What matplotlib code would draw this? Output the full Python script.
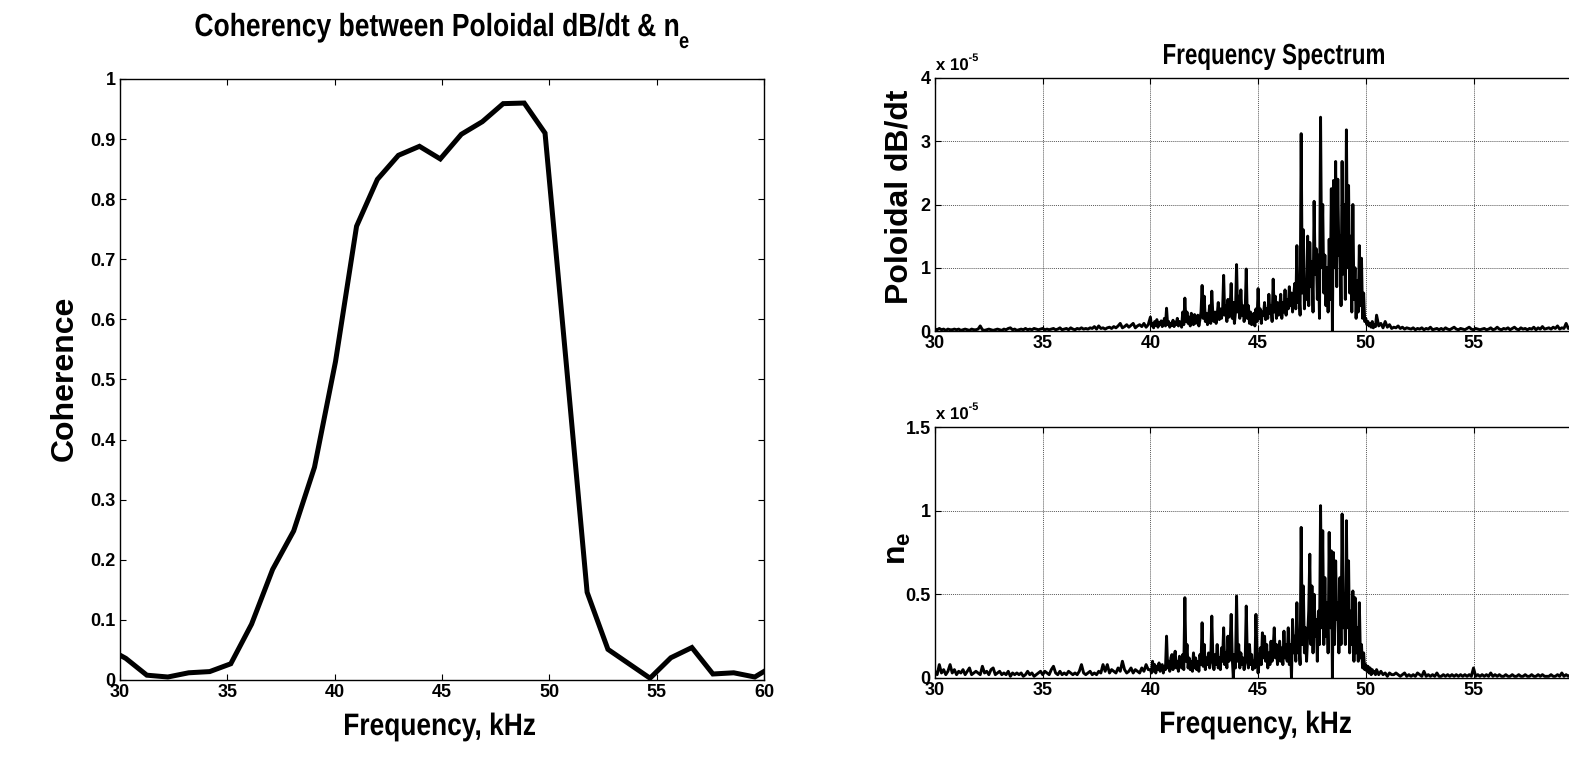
import numpy as np
import matplotlib
matplotlib.use("Agg")
import matplotlib.pyplot as plt
from matplotlib.ticker import FormatStrFormatter
from matplotlib.textpath import TextPath
from matplotlib.patches import PathPatch
from matplotlib.font_manager import FontProperties
from matplotlib.transforms import Affine2D

plt.rcParams["font.family"] = ["Liberation Sans", "DejaVu Sans"]
plt.rcParams["font.weight"] = "bold"
plt.rcParams["mathtext.default"] = "regular"

# coherence data (kHz, coherence)
coh_freq = [29.30, 30.27, 31.25, 32.23, 33.20, 34.18, 35.16, 36.13, 37.11, 38.09,
            39.06, 40.04, 41.02, 41.99, 42.97, 43.95, 44.92, 45.90, 46.88, 47.85,
            48.83, 49.80, 50.78, 51.76, 52.73, 53.71, 54.69, 55.66, 56.64, 57.62,
            58.59, 59.57, 60.55]
coh_val = [0.055, 0.036, 0.008, 0.005, 0.012, 0.014, 0.027, 0.093, 0.184, 0.248,
           0.354, 0.530, 0.755, 0.833, 0.873, 0.888, 0.867, 0.908, 0.929, 0.959,
           0.960, 0.910, 0.530, 0.146, 0.051, 0.027, 0.003, 0.037, 0.054, 0.010,
           0.012, 0.005, 0.026]

# poloidal dB/dt spectrum, units of 1e-5
# 30.0-39.9 kHz, step 0.1
pol_lo = [0.03, 0.02, 0.04, 0.02, 0.03, 0.01, 0.03, 0.02, 0.02, 0.03,
          0.02, 0.03, 0.01, 0.02, 0.03, 0.02, 0.01, 0.03, 0.02, 0.02,
          0.03, 0.08, 0.02, 0.01, 0.02, 0.03, 0.02, 0.01, 0.02, 0.03,
          0.02, 0.01, 0.03, 0.02, 0.04, 0.05, 0.02, 0.03, 0.01, 0.02,
          0.03, 0.02, 0.04, 0.02, 0.03, 0.02, 0.04, 0.03, 0.02, 0.03,
          0.04, 0.02, 0.03, 0.02, 0.03, 0.04, 0.02, 0.03, 0.05, 0.02,
          0.03, 0.04, 0.02, 0.05, 0.03, 0.02, 0.04, 0.03, 0.05, 0.03,
          0.04, 0.03, 0.05, 0.04, 0.07, 0.03, 0.08, 0.04, 0.05, 0.03,
          0.05, 0.06, 0.04, 0.07, 0.05, 0.08, 0.12, 0.05, 0.07, 0.10,
          0.06, 0.09, 0.12, 0.05, 0.08, 0.10, 0.07, 0.12, 0.06, 0.10]
# 40.00-50.45 kHz, step 0.05
pol_mid = [0.22, 0.08, 0.12, 0.05, 0.15, 0.09, 0.18, 0.06, 0.13, 0.10, 0.16, 0.07, 0.12, 0.20, 0.08, 0.36, 0.10, 0.15, 0.06, 0.12,
           0.09, 0.17, 0.07, 0.14, 0.10, 0.20, 0.08, 0.15, 0.12, 0.06, 0.30, 0.10, 0.52, 0.15, 0.30, 0.12, 0.22, 0.08, 0.28, 0.14,
           0.10, 0.26, 0.12, 0.20, 0.25, 0.08, 0.18, 0.30, 0.72, 0.20, 0.55, 0.15, 0.28, 0.10, 0.22, 0.40, 0.12, 0.63, 0.25, 0.15,
           0.30, 0.12, 0.25, 0.45, 0.18, 0.35, 0.20, 0.30, 0.88, 0.25, 0.40, 0.15, 0.50, 0.22, 0.35, 0.75, 0.20, 0.45, 0.12, 0.30,
           1.05, 0.30, 0.55, 0.20, 0.65, 0.25, 0.40, 0.15, 0.30, 0.98, 0.20, 0.40, 0.12, 0.30, 0.10, 0.20, 0.28, 0.08, 0.35, 0.15,
           0.67, 0.20, 0.35, 0.12, 0.30, 0.25, 0.45, 0.18, 0.35, 0.20, 0.58, 0.28, 0.40, 0.15, 0.82, 0.30, 0.55, 0.20, 0.45, 0.25,
           0.35, 0.58, 0.20, 0.45, 0.30, 0.65, 0.25, 0.50, 0.35, 0.70, 0.40, 0.60, 0.30, 0.55, 0.75, 0.35, 1.35, 0.45, 0.60, 0.25,
           3.12, 0.60, 1.60, 0.35, 0.80, 0.50, 1.50, 0.40, 1.40, 0.70, 1.10, 0.30, 2.05, 0.90, 1.30, 0.50, 1.20, 0.20, 3.38, 1.00,
           2.00, 0.60, 1.20, 0.40, 1.00, 0.30, 1.45, 0.50, 2.25, 0.00, 2.38, 1.00, 2.68, 0.70, 2.40, 1.20, 1.50, 0.40, 2.68, 0.90,
           2.00, 0.50, 3.18, 1.00, 2.30, 0.60, 1.50, 0.30, 2.00, 0.50, 1.00, 0.20, 0.80, 0.30, 1.35, 0.40, 1.15, 0.20, 0.60, 0.15,
           0.20, 0.10, 0.15, 0.08, 0.12, 0.06, 0.15, 0.05, 0.10, 0.07]
# 50.5-60.0 kHz, step 0.1
pol_hi = [0.25, 0.08, 0.12, 0.05, 0.15, 0.06, 0.10, 0.04, 0.06, 0.05,
          0.08, 0.04, 0.06, 0.03, 0.05, 0.04, 0.03, 0.05, 0.02, 0.04,
          0.03, 0.05, 0.02, 0.04, 0.03, 0.06, 0.02, 0.03, 0.04, 0.02,
          0.04, 0.02, 0.05, 0.03, 0.02, 0.04, 0.06, 0.03, 0.02, 0.04,
          0.03, 0.02, 0.04, 0.06, 0.03, 0.02, 0.04, 0.03, 0.02, 0.03,
          0.04, 0.02, 0.03, 0.05, 0.02, 0.03, 0.06, 0.03, 0.02, 0.04,
          0.03, 0.05, 0.02, 0.04, 0.06, 0.03, 0.02, 0.05, 0.03, 0.04,
          0.02, 0.04, 0.03, 0.06, 0.02, 0.05, 0.03, 0.07, 0.03, 0.04,
          0.05, 0.03, 0.06, 0.04, 0.08, 0.03, 0.05, 0.04, 0.12, 0.04,
          0.06, 0.03, 0.10, 0.05, 0.04, 0.06]

# n_e spectrum, units of 1e-5
ne_lo = [0.04, 0.02, 0.08, 0.03, 0.05, 0.02, 0.04, 0.08, 0.03, 0.05,
         0.02, 0.04, 0.03, 0.05, 0.02, 0.04, 0.06, 0.02, 0.03, 0.04,
         0.03, 0.02, 0.07, 0.03, 0.04, 0.02, 0.05, 0.06, 0.02, 0.03,
         0.04, 0.02, 0.03, 0.02, 0.04, 0.01, 0.03, 0.02, 0.03, 0.02,
         0.03, 0.01, 0.02, 0.04, 0.02, 0.03, 0.01, 0.02, 0.03, 0.04,
         0.02, 0.04, 0.03, 0.02, 0.05, 0.07, 0.03, 0.02, 0.04, 0.02,
         0.03, 0.02, 0.04, 0.03, 0.02, 0.03, 0.02, 0.04, 0.08, 0.03,
         0.02, 0.03, 0.04, 0.02, 0.03, 0.02, 0.04, 0.03, 0.08, 0.04,
         0.08, 0.03, 0.05, 0.04, 0.03, 0.06, 0.04, 0.10, 0.05, 0.03,
         0.04, 0.06, 0.03, 0.05, 0.04, 0.03, 0.06, 0.04, 0.08, 0.05]
ne_mid = [0.05, 0.03, 0.10, 0.04, 0.08, 0.03, 0.07, 0.05, 0.09, 0.04, 0.06, 0.08, 0.03, 0.07, 0.05, 0.25, 0.06, 0.10, 0.04, 0.12,
          0.14, 0.05, 0.12, 0.16, 0.06, 0.10, 0.04, 0.13, 0.08, 0.06, 0.14, 0.05, 0.48, 0.10, 0.20, 0.06, 0.12, 0.05, 0.10, 0.04,
          0.15, 0.06, 0.12, 0.05, 0.10, 0.04, 0.14, 0.08, 0.33, 0.07, 0.20, 0.05, 0.12, 0.08, 0.15, 0.06, 0.10, 0.37, 0.12, 0.05,
          0.14, 0.08, 0.20, 0.06, 0.12, 0.05, 0.18, 0.10, 0.30, 0.08, 0.15, 0.06, 0.25, 0.10, 0.20, 0.38, 0.12, 0.00, 0.14, 0.06,
          0.49, 0.10, 0.20, 0.06, 0.15, 0.08, 0.12, 0.05, 0.10, 0.43, 0.12, 0.06, 0.20, 0.08, 0.14, 0.05, 0.10, 0.06, 0.38, 0.12,
          0.03, 0.10, 0.18, 0.08, 0.27, 0.12, 0.25, 0.10, 0.20, 0.06, 0.15, 0.08, 0.22, 0.10, 0.18, 0.30, 0.12, 0.20, 0.08, 0.15,
          0.22, 0.10, 0.18, 0.08, 0.28, 0.12, 0.20, 0.10, 0.30, 0.08, 0.20, 0.00, 0.35, 0.15, 0.25, 0.10, 0.45, 0.15, 0.20, 0.08,
          0.90, 0.20, 0.55, 0.15, 0.30, 0.10, 0.25, 0.40, 0.74, 0.20, 0.55, 0.15, 0.50, 0.25, 0.35, 0.10, 0.40, 0.20, 1.03, 0.30,
          0.88, 0.20, 0.60, 0.25, 0.45, 0.15, 0.87, 0.30, 0.76, 0.00, 0.75, 0.20, 0.70, 0.35, 0.45, 0.15, 0.60, 0.20, 0.98, 0.30,
          0.50, 0.20, 0.94, 0.30, 0.70, 0.15, 0.40, 0.20, 0.52, 0.10, 0.48, 0.15, 0.30, 0.10, 0.45, 0.12, 0.20, 0.06, 0.15, 0.05,
          0.08, 0.04, 0.07, 0.03, 0.06, 0.02, 0.05, 0.03, 0.04, 0.02]
ne_hi = [0.05, 0.02, 0.04, 0.02, 0.03, 0.01, 0.03, 0.02, 0.02, 0.03,
         0.02, 0.01, 0.02, 0.03, 0.01, 0.02, 0.01, 0.02, 0.01, 0.03,
         0.02, 0.01, 0.04, 0.01, 0.02, 0.01, 0.02, 0.01, 0.03, 0.01,
         0.01, 0.02, 0.01, 0.02, 0.01, 0.02, 0.01, 0.02, 0.01, 0.02,
         0.01, 0.02, 0.01, 0.02, 0.01, 0.06, 0.01, 0.02, 0.01, 0.02,
         0.01, 0.02, 0.01, 0.03, 0.01, 0.02, 0.01, 0.02, 0.01, 0.01,
         0.02, 0.01, 0.01, 0.02, 0.01, 0.01, 0.02, 0.01, 0.01, 0.02,
         0.01, 0.01, 0.02, 0.01, 0.01, 0.02, 0.01, 0.02, 0.01, 0.01,
         0.01, 0.02, 0.01, 0.01, 0.02, 0.01, 0.03, 0.01, 0.02, 0.01,
         0.02, 0.01, 0.03, 0.01, 0.02, 0.01]

# frequency bins for the three spectrum bands
f_lo = 30.0 + 0.1 * np.arange(len(pol_lo))
f_mid = 40.0 + 0.05 * np.arange(len(pol_mid))
f_hi = 50.5 + 0.1 * np.arange(len(pol_hi))
f_spec = np.concatenate([f_lo, f_mid, f_hi])
pol_spec = np.concatenate([pol_lo, pol_mid, pol_hi])
ne_spec = np.concatenate([ne_lo, ne_mid, ne_hi])

W, H = 1569, 761
fig = plt.figure(figsize=(W / 100, H / 100), dpi=100)
BOLD = FontProperties(family=["Liberation Sans", "DejaVu Sans"], weight="bold")


def narrow_text(pieces, x, y, width, ha="center"):
    # draw condensed bold text (like Arial Narrow) as a path
    # pieces: (string, em size in px, raise in px); x, y in pixels from top-left, y = baseline
    parts = []
    cursor = 0.0
    for s, size, dy in pieces:
        tp = TextPath((0, 0), s, size=size, prop=BOLD)
        ext = tp.get_extents()
        parts.append((tp, cursor - ext.x0, dy))
        cursor += ext.width + size * 0.06
    total = cursor - pieces[-1][1] * 0.06
    sx = width / total
    x0 = x - width / 2 if ha == "center" else x
    for tp, off, dy in parts:
        tr = (Affine2D().translate(off, dy).scale(sx, 1)
              .translate(x0, H - y).scale(1 / W, 1 / H))
        fig.add_artist(PathPatch(tr.transform_path(tp), transform=fig.transFigure,
                                 fc="k", ec="none", lw=0))


def style_axes(ax):
    ax.tick_params(direction="in", length=4, width=0.8, top=True, right=True,
                   labelsize=13, pad=3)
    for s in ax.spines.values():
        s.set_linewidth(1.0)


# left: coherence
ax1 = fig.add_axes([120 / W, 1 - 680 / H, 644 / W, 601 / H])
ax1.plot(coh_freq, coh_val, color="k", lw=3.6, solid_joinstyle="miter")
ax1.set_xlim(30, 60)
ax1.set_ylim(0, 1)
ax1.set_xticks(np.arange(30, 61, 5))
ax1.set_yticks(np.arange(0, 1.01, 0.1))
ax1.yaxis.set_major_formatter(FormatStrFormatter("%g"))
style_axes(ax1)

narrow_text([("Coherency between Poloidal dB/dt & n", 32, 0), ("e", 22, -12)],
            442, 36, 493)
narrow_text([("Frequency, kHz", 31, 0)], 440, 735, 190)
fig.text(65 / W, 1 - 378 / H, "Coherence", rotation=90, fontsize=23,
         fontweight="bold", ha="center", va="center")

# right top: poloidal dB/dt spectrum
px_per_khz = 107.7 / 5
x_left = 935
ax2 = fig.add_axes([x_left / W, 1 - 331 / H, 30 * px_per_khz / W, 253 / H])
ax2.plot(f_spec, pol_spec, color="k", lw=2.1)
ax2.set_xlim(30, 60)
ax2.set_ylim(0, 4)
ax2.set_xticks(np.arange(30, 61, 5))
ax2.set_yticks([0, 1, 2, 3, 4])
style_axes(ax2)
ax2.grid(True, color="0.35", ls=(0, (1, 1)), lw=0.7)

narrow_text([("Frequency Spectrum", 29, 0)], 1274, 64, 220)
narrow_text([("x 10", 17, 0), ("-5", 11, 9)], 936, 70, 42, ha="left")
fig.text(900 / W, 1 - 197 / H, "Poloidal dB/dt", rotation=90, fontsize=23,
         fontweight="bold", ha="center", va="center")

# right bottom: n_e spectrum
ax3 = fig.add_axes([x_left / W, 1 - 678 / H, 30 * px_per_khz / W, 251 / H])
ax3.plot(f_spec, ne_spec, color="k", lw=2.1)
ax3.set_xlim(30, 60)
ax3.set_ylim(0, 1.5)
ax3.set_xticks(np.arange(30, 61, 5))
ax3.set_yticks([0, 0.5, 1, 1.5])
ax3.yaxis.set_major_formatter(FormatStrFormatter("%g"))
style_axes(ax3)
ax3.grid(True, color="0.35", ls=(0, (1, 1)), lw=0.7)

narrow_text([("x 10", 17, 0), ("-5", 11, 9)], 936, 419, 42, ha="left")
narrow_text([("Frequency, kHz", 31, 0)], 1256, 733, 190)
fig.text(898 / W, 1 - 548 / H, r"n$_e$", rotation=90, fontsize=23,
         fontweight="bold", ha="center", va="center")

fig.savefig("out.png", dpi=100)
